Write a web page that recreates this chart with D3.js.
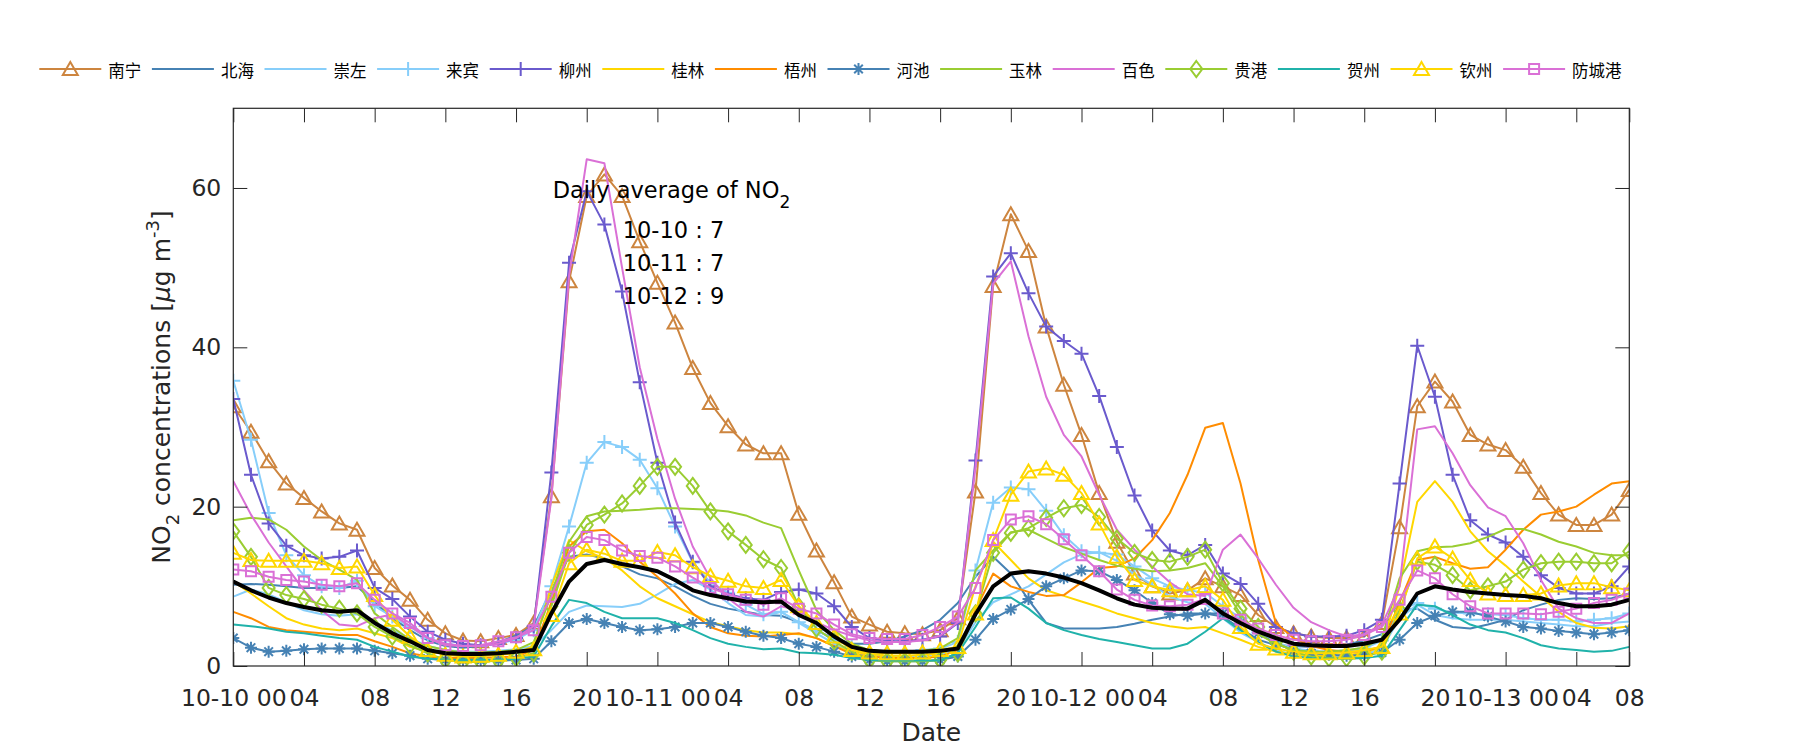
<!DOCTYPE html>
<html>
<head>
<meta charset="utf-8">
<script src="https://cdn.jsdelivr.net/npm/d3@7"></script>
<style>
  html, body { margin: 0; padding: 0; background: #fff; }
  svg { display: block; }
</style>
</head>
<body>
<svg id="chart" width="1800" height="750"></svg>
<script>
// ---------------- DATA ----------------
const cities = ["南宁","北海","崇左","来宾","柳州","桂林","梧州","河池","玉林","百色","贵港","贺州","钦州","防城港"];
const xTickPos = [0,4,8,12,16,20,24,28,32,36,40,44,48,52,56,60,64,68,72,76,79];
const xTickLabels = ["10-10 00","04","08","12","16","20","10-11 00","04","08","12","16","20","10-12 00","04","08","12","16","20","10-13 00","04","08"];
const yTicks = [0,20,40,60];
const dailyAvg = ["10-10 : 7","10-11 : 7","10-12 : 9"];

const nanning = [32.6,29.4,25.7,22.9,21.1,19.4,17.9,17.1,12.3,10.1,8.3,5.8,4.1,3.2,3.1,3.5,3.9,5.4,21.3,48.3,59.0,61.7,59.0,53.3,
 48.1,43.1,37.4,33.0,30.1,27.8,26.7,26.7,19.1,14.5,10.5,6.2,5.2,4.3,4.1,4.0,4.5,6.0,21.9,47.7,56.7,52.1,42.6,35.3,
 29.0,21.7,15.6,11.6,10.0,9.1,9.5,11.0,10.0,8.9,6.4,4.9,4.1,3.7,3.5,3.5,3.7,5.4,17.4,32.6,35.7,33.2,29.0,27.8,
 27.1,25.0,21.7,19.0,17.7,17.7,19.0,22.1];
const beihai = [10.2,10.3,10.2,10.0,9.8,9.8,9.8,10.0,8.0,6.0,4.5,3.2,2.5,2.3,2.5,3.0,3.8,5.0,9.5,13.7,14.0,13.5,12.5,11.5,
 11.0,10.0,8.8,7.8,7.2,6.8,6.4,6.3,5.5,4.4,3.5,2.8,2.8,3.1,3.7,4.5,5.8,7.9,11.2,13.7,11.6,8.3,5.4,4.7,
 4.7,4.7,4.9,5.3,5.8,6.2,6.6,6.6,6.2,4.7,3.3,2.6,2.5,2.4,2.5,2.7,3.2,4.0,7.0,7.2,5.8,4.9,4.7,5.2,
 5.8,7.0,7.7,8.3,8.5,8.4,8.5,9.1];
const chongzuo = [8.7,9.6,9.0,8.0,7.0,6.5,6.3,6.5,5.5,4.5,3.5,2.5,2.0,1.8,1.8,1.9,2.1,2.5,4.5,6.8,7.6,7.5,7.4,7.8,
 9.0,10.3,10.8,9.6,7.9,6.4,6.2,6.8,5.4,4.1,2.8,1.6,1.3,1.2,1.2,1.3,1.5,2.0,5.5,8.0,9.0,10.0,11.5,13.0,
 14.0,14.3,13.2,11.5,10.2,8.7,8.0,7.8,6.0,4.2,3.0,2.0,1.4,1.2,1.2,1.3,1.5,2.2,6.0,7.7,6.4,6.0,5.8,5.8,
 5.8,5.6,5.4,5.2,5.0,5.0,5.4,5.6];
const laibin = [35.8,28.4,19.2,13.9,11.4,10.0,9.8,10.7,7.5,6.2,4.9,3.5,2.8,2.5,2.5,2.8,3.3,4.5,10.0,17.5,25.5,28.1,27.5,25.9,
 22.3,17.5,13.0,10.5,9.2,7.7,6.5,6.8,5.5,4.5,3.3,2.5,2.0,1.8,1.8,2.0,2.2,3.0,12.0,20.5,22.4,22.2,19.5,16.4,
 14.4,14.2,14.0,12.5,11.0,10.0,9.5,9.2,7.5,6.0,4.2,3.0,2.2,1.9,1.8,1.9,2.2,3.2,7.0,7.9,7.2,6.7,6.6,6.5,
 6.4,6.0,5.8,5.8,5.6,5.8,6.0,6.6];
const liuzhou = [33.5,24.0,17.9,15.1,13.9,13.5,13.7,14.5,9.8,8.4,6.2,4.3,3.3,2.8,2.6,2.8,3.5,5.0,24.3,50.6,59.6,55.4,47.0,35.6,
 25.5,18.0,13.1,10.0,9.0,8.5,8.3,9.3,9.6,9.1,7.5,4.9,3.5,3.1,3.1,3.3,3.7,5.4,25.8,48.9,51.8,46.8,42.6,40.8,
 39.2,33.9,27.5,21.4,17.0,14.5,13.9,15.2,11.6,10.3,7.8,4.9,4.1,3.7,3.7,3.8,4.5,5.8,22.9,40.2,33.8,24.0,18.3,16.5,
 15.5,13.7,11.4,9.8,9.1,9.1,10.0,12.5];
const guilin = [10.6,9.1,7.5,6.0,5.2,4.7,4.5,4.7,4.1,3.5,2.4,1.8,1.5,1.3,1.3,1.4,1.6,2.5,10.0,15.8,14.4,13.5,12.0,10.0,
 8.5,7.5,6.5,5.5,5.0,4.5,4.2,4.2,4.0,3.5,2.5,1.8,1.5,1.3,1.3,1.4,1.6,2.5,10.0,15.6,13.3,11.0,9.5,8.8,
 8.1,7.4,6.6,6.0,5.4,5.0,4.7,4.9,4.1,3.3,2.4,1.8,1.5,1.3,1.3,1.4,1.6,2.5,10.0,20.6,23.2,20.6,16.9,14.4,
 12.6,10.6,8.7,6.8,5.4,4.8,4.7,5.0];
const wuzhou = [6.8,6.0,4.9,4.5,4.3,4.1,3.9,3.9,3.1,2.4,1.6,1.2,1.0,1.0,1.0,1.1,1.2,2.0,8.0,15.0,16.9,17.1,15.4,13.1,
 11.2,9.1,6.6,4.9,4.1,3.8,3.7,3.9,4.1,3.5,2.5,1.5,1.2,1.0,1.0,1.0,1.2,2.0,7.0,11.6,10.0,9.3,8.8,8.9,
 10.5,12.3,12.5,13.5,15.8,19.2,24.0,29.9,30.5,22.9,13.3,5.4,3.5,2.5,2.0,1.8,1.8,2.5,8.0,13.3,13.7,12.9,12.2,12.4,
 14.6,17.1,19.0,19.4,20.0,21.5,22.9,23.2];
const hechi = [3.5,2.3,1.8,1.9,2.1,2.2,2.2,2.2,1.9,1.6,1.3,0.9,0.75,0.7,0.7,0.7,0.75,0.9,3.1,5.4,5.9,5.4,4.9,4.5,
 4.6,4.9,5.4,5.4,4.9,4.3,3.8,3.5,2.8,2.4,1.8,1.2,0.75,0.6,0.6,0.6,0.75,1.2,3.3,5.9,7.1,8.4,10.0,11.0,
 12.0,11.9,10.8,9.5,7.9,6.5,6.3,6.6,6.6,5.4,4.1,2.8,2.0,1.6,1.4,1.3,1.4,1.7,3.3,5.4,6.3,6.8,6.8,6.2,
 5.6,4.9,4.7,4.4,4.2,4.0,4.2,4.5];
const yulin = [18.3,18.6,18.4,17.1,15.0,13.3,12.1,10.8,6.6,4.9,3.3,2.5,2.0,1.7,1.7,1.8,2.0,3.0,9.0,15.6,18.8,19.4,19.5,19.6,
 19.8,19.8,19.7,19.6,19.4,18.9,18.0,17.3,12.0,7.0,4.5,2.8,2.0,1.8,1.8,1.9,2.2,3.5,12.0,14.5,16.8,17.1,16.0,14.9,
 14.1,13.3,12.6,12.2,11.9,12.0,12.3,12.9,10.0,6.5,4.0,2.8,2.0,1.8,1.8,2.0,2.3,3.5,11.0,14.4,14.9,15.0,15.4,16.2,
 17.2,17.2,16.5,15.6,15.0,14.2,13.9,13.9];
const baise = [23.2,19.0,15.5,12.5,9.5,7.0,5.2,5.0,6.0,6.5,5.0,3.5,2.8,2.5,2.5,2.8,3.5,5.0,21.0,49.0,63.6,63.1,50.0,37.5,
 28.5,21.0,15.0,11.0,8.5,6.8,6.2,7.5,7.0,5.5,4.5,3.8,3.2,3.0,3.0,3.2,3.8,5.5,25.0,48.0,50.8,41.4,33.8,29.0,
 26.3,21.5,17.1,14.6,12.5,10.5,9.0,8.8,14.6,16.5,13.5,10.2,7.3,5.5,4.5,3.7,4.0,5.2,10.0,29.7,30.1,26.7,22.7,19.9,
 18.8,15.4,10.8,7.2,6.0,5.4,5.4,6.6];
const guigang = [16.9,13.7,9.8,8.9,8.4,7.7,7.2,6.6,4.9,3.7,2.6,1.6,0.75,0.5,0.5,0.7,1.0,1.6,7.5,14.2,17.7,19.0,20.4,22.6,
 25.0,25.0,22.6,19.4,16.9,15.2,13.4,12.3,7.5,4.7,3.1,1.8,0.75,0.6,0.6,0.6,0.75,1.6,6.6,14.2,16.7,17.3,18.6,19.8,
 20.2,18.7,16.0,14.2,13.3,13.1,13.7,14.6,10.4,7.2,4.9,3.0,1.8,1.2,1.0,1.0,1.2,1.8,7.0,13.1,12.7,11.4,9.5,10.0,
 10.6,12.1,12.9,13.1,13.1,12.9,12.9,14.4];
const hezhou = [5.2,5.0,4.7,4.3,4.1,3.8,3.5,3.3,2.4,1.8,1.2,0.9,0.8,0.8,0.8,0.8,0.9,1.2,5.0,8.3,7.9,6.8,6.0,6.0,
 6.0,5.4,4.5,3.5,2.8,2.4,2.1,2.2,1.7,1.6,1.4,1.0,0.75,0.7,0.7,0.7,0.7,1.6,4.9,8.5,8.6,7.2,5.4,4.5,
 3.9,3.4,3.0,2.6,2.2,2.2,2.8,4.3,6.0,4.5,3.0,1.8,1.2,1.0,0.9,0.9,1.0,1.3,4.5,7.7,7.5,6.4,5.2,4.5,
 4.2,3.5,2.6,2.2,2.0,1.8,1.9,2.4];
const qinzhou = [14.2,13.3,13.2,13.2,13.2,12.9,12.3,12.5,8.9,5.8,3.7,2.0,1.4,1.2,1.3,1.4,1.8,2.1,6.4,12.9,14.6,14.1,13.2,13.2,
 14.3,13.9,12.4,11.3,10.7,10.0,9.8,10.8,7.5,5.4,3.7,2.0,1.7,1.6,1.6,1.7,2.0,2.4,6.6,15.8,21.5,24.4,24.8,24.0,
 21.7,17.9,13.7,10.8,10.0,9.5,9.5,10.0,8.3,4.9,2.8,2.2,1.8,1.6,1.6,1.7,2.0,2.4,6.6,13.5,15.0,13.5,10.8,9.1,
 8.9,8.9,9.1,10.1,10.4,10.4,9.9,9.5];
const fangchenggang = [12.1,11.9,11.2,10.8,10.6,10.2,10.0,10.4,8.3,6.6,5.4,3.5,2.6,2.5,2.6,3.1,3.6,4.5,8.7,14.2,16.2,15.8,14.5,13.8,
 13.6,12.5,11.1,9.8,9.0,8.3,7.7,8.5,7.2,6.6,5.2,4.0,3.5,3.4,3.4,3.9,4.9,6.2,9.8,15.8,18.4,18.8,17.8,15.9,
 13.9,11.9,9.6,8.3,7.6,7.5,7.7,8.4,6.6,5.8,4.7,3.9,3.3,3.1,3.1,3.3,3.9,4.9,8.3,12.0,11.0,9.0,7.5,6.6,
 6.6,6.6,6.5,6.8,7.2,7.9,8.3,9.1];
const average = [10.6,9.5,8.6,7.9,7.4,7.0,6.8,7.0,5.4,4.1,3.1,2.0,1.6,1.5,1.5,1.6,1.8,2.0,6.6,10.6,12.8,13.3,12.8,12.4,
 11.9,10.8,9.5,8.9,8.5,8.1,8.0,8.1,6.4,5.4,3.7,2.4,1.9,1.8,1.8,1.8,1.9,2.2,6.5,10.0,11.6,11.9,11.6,11.1,
 10.4,9.5,8.5,7.7,7.3,7.2,7.2,8.3,6.6,5.4,4.3,3.5,2.8,2.6,2.5,2.5,2.8,3.3,5.8,9.1,10.0,9.6,9.3,9.1,
 8.9,8.8,8.5,7.9,7.5,7.5,7.7,8.3];

const seriesValues = [nanning,beihai,chongzuo,laibin,liuzhou,guilin,wuzhou,hechi,yulin,baise,guigang,hezhou,qinzhou,fangchenggang];
const seriesColors = ["#CD853F","#4682B4","#87CEFA","#87CEFA","#6A5ACD","#FFD700","#FF8C00","#4682B4","#9ACD32","#DA70D6","#9ACD32","#20B2AA","#FFD700","#DA70D6"];
const seriesMarkers = ["tri","none","none","plus","plus","none","none","star","none","none","diamond","none","tri","square"];

// ---------------- LAYOUT ----------------
const svg = d3.select("#chart");
const L = 233.3, R = 1629.3, T = 108.3, B = 666;
const x = d3.scaleLinear().domain([0, 79]).range([L, R]);
const y = d3.scaleLinear().domain([0, 70]).range([B, T]);
const axisColor = "#262626";
const tickFont = "DejaVu Sans, sans-serif";

const markerPath = {
  tri: "M0,-7L7.5,6L-7.5,6Z",
  plus: "M-7,0H7M0,-7V7",
  star: "M-6,0H6M0,-6V6M-4.3,-4.3L4.3,4.3M-4.3,4.3L4.3,-4.3",
  diamond: "M0,-8L6,0L0,8L-6,0Z",
  square: "M-5,-5H5V5H-5Z"
};

svg.append("defs").append("clipPath").attr("id","plotclip")
  .append("rect").attr("x", L).attr("y", T).attr("width", R - L).attr("height", B - T);

const plot = svg.append("g").attr("clip-path", "url(#plotclip)");
const line = d3.line().x((d, i) => x(i)).y(d => y(d));

seriesValues.forEach((vals, si) => {
  const g = plot.append("g");
  g.append("path").datum(vals).attr("d", line)
    .attr("fill", "none").attr("stroke", seriesColors[si]).attr("stroke-width", 2)
    .attr("stroke-linejoin", "round");
  const m = seriesMarkers[si];
  if (m !== "none") {
    g.selectAll("path.mk").data(vals).enter().append("path").attr("class", "mk")
      .attr("d", markerPath[m])
      .attr("transform", (d, i) => `translate(${x(i)},${y(d)})`)
      .attr("fill", "none").attr("stroke", seriesColors[si]).attr("stroke-width", 2);
  }
});
plot.append("path").datum(average).attr("d", line)
  .attr("fill", "none").attr("stroke", "#000").attr("stroke-width", 4).attr("stroke-linejoin", "round");

// ---------------- AXES ----------------
const tickLen = 14;
const axG = svg.append("g");
const xAxisB = d3.axisBottom(x).tickValues(xTickPos).tickSize(-tickLen).tickPadding(tickLen + 9)
  .tickFormat((d, i) => xTickLabels[i]);
const gxb = axG.append("g").attr("transform", `translate(0,${B})`).call(xAxisB);
const xAxisT = d3.axisTop(x).tickValues(xTickPos).tickSize(-tickLen).tickFormat("");
const gxt = axG.append("g").attr("transform", `translate(0,${T})`).call(xAxisT);
const yAxisL = d3.axisLeft(y).tickValues(yTicks).tickSize(-tickLen).tickPadding(12);
const gyl = axG.append("g").attr("transform", `translate(${L},0)`).call(yAxisL);
const yAxisR = d3.axisRight(y).tickValues(yTicks).tickSize(-tickLen).tickFormat("");
const gyr = axG.append("g").attr("transform", `translate(${R},0)`).call(yAxisR);
[gxb, gxt, gyl, gyr].forEach(g => {
  g.select(".domain").remove();
  g.selectAll(".tick line").attr("stroke", axisColor).attr("stroke-width", 1);
  g.selectAll(".tick text").attr("fill", axisColor).style("font-family", tickFont).style("font-size", "23.5px");
});
gxb.selectAll(".tick text").attr("dy", "0.71em");
axG.append("rect").attr("x", L).attr("y", T).attr("width", R - L).attr("height", B - T)
  .attr("fill", "none").attr("stroke", axisColor).attr("stroke-width", 1.2);

svg.append("text").attr("x", (L + R) / 2).attr("y", 741).attr("text-anchor", "middle")
  .style("font-family", tickFont).style("font-size", "25px").attr("fill", axisColor).text("Date");

const ylab = svg.append("text").attr("transform", "translate(170,387) rotate(-90)").attr("text-anchor", "middle")
  .style("font-family", tickFont).style("font-size", "25px").attr("fill", axisColor);
ylab.append("tspan").text("NO");
ylab.append("tspan").attr("dy", 9).style("font-size", "18px").text("2");
ylab.append("tspan").attr("dy", -9).text(" concentrations [");
ylab.append("tspan").style("font-style", "italic").text("μ");
ylab.append("tspan").text("g m");
ylab.append("tspan").attr("dy", -11).style("font-size", "18px").text("-3");
ylab.append("tspan").attr("dy", 11).text("]");

const ann = svg.append("text").attr("x", 552.7).attr("y", 198.3)
  .style("font-family", tickFont).style("font-size", "22.5px").attr("fill", "#000");
ann.append("tspan").text("Daily average of NO");
ann.append("tspan").attr("dy", 10).style("font-size", "17px").text("2");
dailyAvg.forEach((t, i) => {
  svg.append("text").attr("x", 622.7).attr("y", 237.7 + i * 33.3)
    .style("font-family", tickFont).style("font-size", "22.5px").attr("fill", "#000").text(t);
});

// ---------------- LEGEND ----------------
const leg = svg.append("g");
cities.forEach((c, i) => {
  const x0 = 39.3 + i * 112.6, ly = 69;
  const g = leg.append("g");
  g.append("line").attr("x1", x0).attr("x2", x0 + 62).attr("y1", ly).attr("y2", ly)
    .attr("stroke", seriesColors[i]).attr("stroke-width", 2);
  const m = seriesMarkers[i];
  if (m !== "none") {
    g.append("path").attr("d", markerPath[m]).attr("transform", `translate(${x0 + 31},${ly})`)
      .attr("fill", "none").attr("stroke", seriesColors[i]).attr("stroke-width", 2);
  }
  g.append("text").attr("x", x0 + 69).attr("y", ly + 1).attr("dominant-baseline", "central")
    .style("font-family", "'Noto Sans CJK SC', sans-serif").style("font-size", "16.5px").attr("fill", "#000").text(c);
});
</script>
</body>
</html>
